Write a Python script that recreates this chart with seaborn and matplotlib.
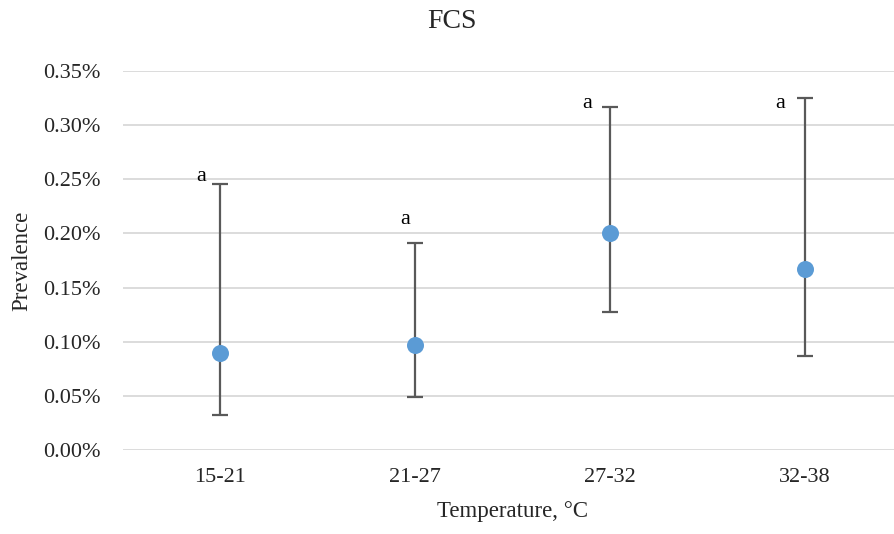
import numpy as np
import pandas as pd
import seaborn as sns
import matplotlib.pyplot as plt
from matplotlib.ticker import PercentFormatter, MultipleLocator

# values in percent
temps = ['15-21', '21-27', '27-32', '32-38']
prevalence = [0.0895, 0.0972, 0.2006, 0.1673]
upper = [0.246, 0.191, 0.317, 0.325]
lower = [0.0324, 0.049, 0.127, 0.0864]
letters = ['a', 'a', 'a', 'a']
letter_y = [0.253, 0.213, 0.320, 0.320]
letter_dx = [-0.10, -0.05, -0.115, -0.125]

df = pd.DataFrame({'Temperature': temps, 'Prevalence': prevalence,
                   'upper': upper, 'lower': lower})

sns.set_style('white')
plt.rcParams['font.family'] = ['Liberation Serif', 'DejaVu Serif']

fig = plt.figure(figsize=(8.95, 5.34), dpi=100)
ax = fig.add_axes([123 / 895, 84 / 534, 779 / 895, 379 / 534])

pos = np.arange(len(df))
ax.errorbar(pos, df['Prevalence'],
            yerr=[df['Prevalence'] - df['lower'], df['upper'] - df['Prevalence']],
            fmt='none', ecolor='#595959', elinewidth=1.6, capsize=5.5, capthick=1.6,
            zorder=2)
sns.scatterplot(data=df, x='Temperature', y='Prevalence', ax=ax, s=150,
                color='#5B9BD5', edgecolor='#5B9BD5', linewidth=0, zorder=3)

for i, (t, yl, dx) in enumerate(zip(letters, letter_y, letter_dx)):
    ax.text(i + dx, yl, t, ha='center', va='center', fontsize=16, color='black')

ax.set_xlim(-0.5, 3.5)
ax.set_ylim(0, 0.35)
ax.yaxis.set_major_locator(MultipleLocator(0.05))
ax.yaxis.set_major_formatter(PercentFormatter(decimals=2))
ax.grid(axis='y', color='#D9D9D9', linewidth=1.3)
ax.grid(axis='x', visible=False)
for s in ax.spines.values():
    s.set_visible(False)
ax.tick_params(axis='y', length=0, pad=16, labelsize=16)
ax.tick_params(axis='x', length=0, pad=13, labelsize=16)

ax.set_xlabel('Temperature, °C', fontsize=16.5, labelpad=10)
ax.set_ylabel('Prevalence', fontsize=16.5, labelpad=8)
fig.suptitle('FCS', x=0.505, y=1 - 22 / 534, fontsize=20, va='center')

fig.savefig('out.png', dpi=100)
